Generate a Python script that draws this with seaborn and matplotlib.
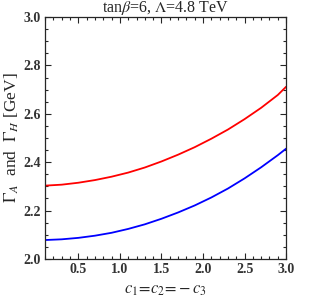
import numpy as np
import pandas as pd
import matplotlib
matplotlib.use('Agg')
import matplotlib.pyplot as plt
import seaborn as sns
from matplotlib.ticker import MultipleLocator

# data
c_vals = [0.1, 0.3, 0.5, 0.7, 0.9, 1.1, 1.3, 1.5, 1.7, 1.9, 2.1, 2.3, 2.5, 2.7, 2.9, 3.0]
gamma_H = [2.303, 2.307, 2.315, 2.326, 2.340, 2.357, 2.378, 2.403, 2.431, 2.462, 2.497,
           2.535, 2.578, 2.625, 2.678, 2.712]
gamma_A = [2.078, 2.081, 2.087, 2.096, 2.108, 2.124, 2.143, 2.166, 2.192, 2.221, 2.254,
           2.291, 2.333, 2.379, 2.429, 2.456]

df = pd.DataFrame({'c': c_vals, 'H': gamma_H, 'A': gamma_A})

sns.set_style('ticks')
plt.rcParams['font.family'] = ['Liberation Serif', 'DejaVu Serif']
plt.rcParams['mathtext.fontset'] = 'stix'

fig = plt.figure(figsize=(3.11, 3.0), dpi=100)
ax = fig.add_axes([0.145, 0.137, 0.775, 0.806])

sns.lineplot(x='c', y='H', data=df, color='#ff0000', linewidth=1.3, ax=ax)
sns.lineplot(x='c', y='A', data=df, color='#0000ff', linewidth=1.3, ax=ax)

ax.set_xlim(0.1, 3.0)
ax.set_ylim(2.0, 3.0)
ax.xaxis.set_major_locator(MultipleLocator(0.5))
ax.xaxis.set_minor_locator(MultipleLocator(0.1))
ax.yaxis.set_major_locator(MultipleLocator(0.2))
ax.yaxis.set_minor_locator(MultipleLocator(0.05))
ax.set_xticks([0.5, 1.0, 1.5, 2.0, 2.5, 3.0])
ax.tick_params(which='both', direction='in', top=True, right=True, width=0.8,
               labelsize=10, labelcolor='#333333', pad=3)
ax.tick_params(which='major', length=4)
ax.tick_params(which='minor', length=2)
for lab in ax.get_xticklabels() + ax.get_yticklabels():
    lab.set_fontweight('bold')
for s in ax.spines.values():
    s.set_linewidth(0.9)

ax.set_title(r'tan$\beta$=6, $\Lambda$=4.8 TeV', fontsize=11.5, pad=3)
ax.set_xlabel(r'$c_1\!=\!c_2\!=\!-c_3$', fontsize=12, labelpad=4)
ax.set_ylabel(r'$\Gamma_A$  and  $\Gamma_H$ [GeV]', fontsize=12.5, labelpad=2)

fig.savefig('out.png', dpi=100)
